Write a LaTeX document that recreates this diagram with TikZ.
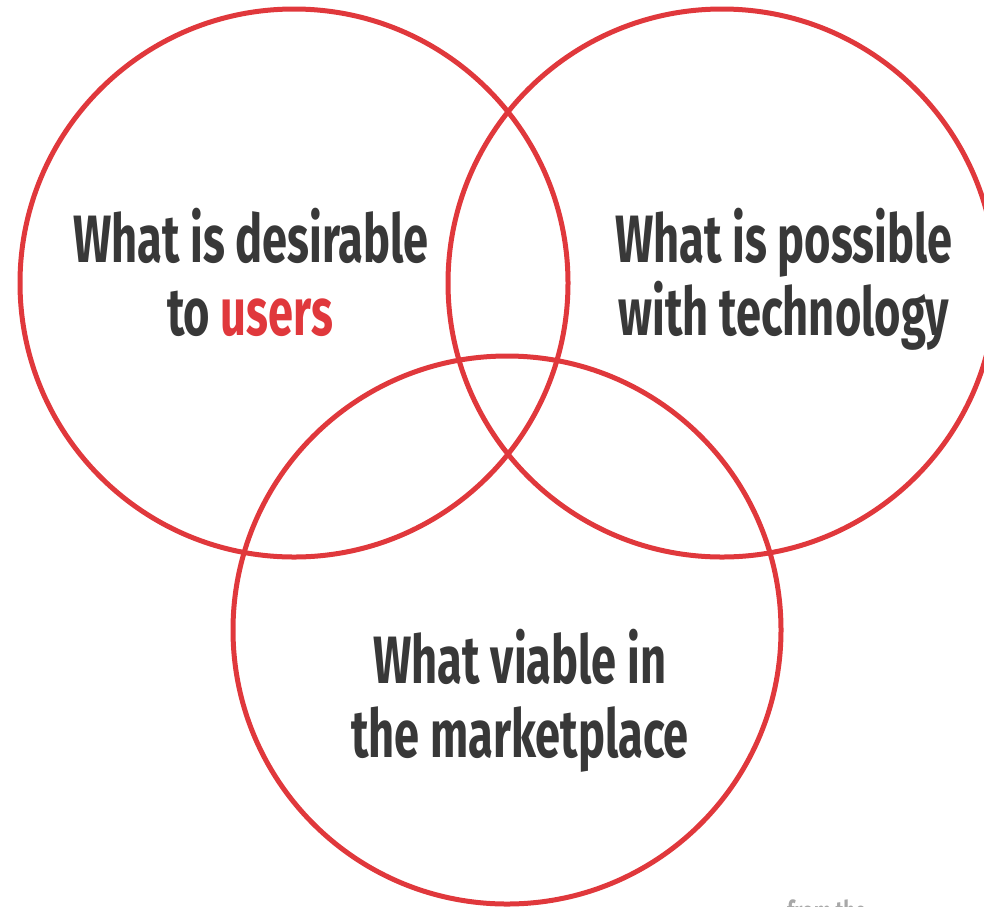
\documentclass[tikz,border=0pt]{standalone}
\usepackage{fontspec}
\setmainfont{Fira Sans}[FakeStretch=0.675]
\definecolor{vred}{HTML}{E0383C}
\definecolor{vtext}{HTML}{383838}
\definecolor{vgray}{HTML}{A8A8A8}
\begin{document}
\begin{tikzpicture}[x=1pt,y=-1pt,
  ring/.style={draw=vred,line width=5pt},
  lbl/.style={anchor=base,inner sep=0pt,text=vtext,font=\fontsize{67}{70}\selectfont\bfseries}]
\useasboundingbox (0,0) rectangle (984,906);
\begin{scope}
\clip (0,0) rectangle (984,906);
\draw[ring] (294,283) circle[radius=274];
\draw[ring] (722,283) circle[radius=274];
\draw[ring] (507,630) circle[radius=274];
\node[lbl] (d1) at (251,262) {What is desirable};
\node[lbl] (d2) at (250,335) {to \textcolor{vred}{users}};
\node[lbl] (p1) at (784,262) {What is possible};
\node[lbl] (p2) at (784,335) {with technology};
\node[lbl] (v1) at (520,683) {What viable in};
\node[lbl] (v2) at (520,757) {the marketplace};
\node[anchor=base west,inner sep=0pt,text=vgray,font=\fontsize{30}{30}\selectfont\bfseries] (src) at (787,922) {from the};
\end{scope}
\end{tikzpicture}
\end{document}
